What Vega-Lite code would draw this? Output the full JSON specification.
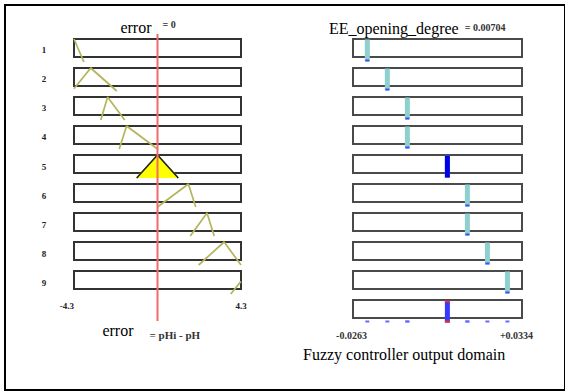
{
  "$schema": "https://vega.github.io/schema/vega-lite/v6.json",
  "width": 560,
  "height": 385,
  "autosize": {"type": "none"},
  "padding": {"left": 5, "top": 5, "right": 0, "bottom": 2},
  "background": "white",
  "config": {
    "view": {"stroke": "#000000", "strokeWidth": 2},
    "text": {"font": "Liberation Serif", "baseline": "alphabetic"}
  },
  "datasets": {
    "rulesIn": [{"rule": 1}, {"rule": 2}, {"rule": 3}, {"rule": 4}, {"rule": 5}, {"rule": 6}, {"rule": 7}, {"rule": 8}, {"rule": 9}],
    "rulesOut": [{"rule": 1}, {"rule": 2}, {"rule": 3}, {"rule": 4}, {"rule": 5}, {"rule": 6}, {"rule": 7}, {"rule": 8}, {"rule": 9}, {"rule": 10}],
    "mf": [
      {"rule": 1, "error": -4.3, "mu": 1}, {"rule": 1, "error": -3.79, "mu": 0},
      {"rule": 2, "error": -4.3, "mu": 0.1}, {"rule": 2, "error": -3.44, "mu": 1}, {"rule": 2, "error": -2.1, "mu": 0},
      {"rule": 3, "error": -2.92, "mu": 0}, {"rule": 3, "error": -2.57, "mu": 1}, {"rule": 3, "error": -1.69, "mu": 0},
      {"rule": 4, "error": -1.97, "mu": 0}, {"rule": 4, "error": -1.59, "mu": 1}, {"rule": 4, "error": 0, "mu": 0},
      {"rule": 5, "error": -1.07, "mu": 0}, {"rule": 5, "error": 0, "mu": 1}, {"rule": 5, "error": 1.07, "mu": 0},
      {"rule": 6, "error": 0, "mu": 0}, {"rule": 6, "error": 1.59, "mu": 1}, {"rule": 6, "error": 1.97, "mu": 0},
      {"rule": 7, "error": 1.69, "mu": 0}, {"rule": 7, "error": 2.55, "mu": 1}, {"rule": 7, "error": 2.92, "mu": 0},
      {"rule": 8, "error": 2.12, "mu": 0}, {"rule": 8, "error": 3.43, "mu": 1}, {"rule": 8, "error": 4.3, "mu": 0},
      {"rule": 9, "error": 3.77, "mu": 0}, {"rule": 9, "error": 4.3, "mu": 0.55}
    ],
    "out": [
      {"rule": 1, "out": -0.02124, "strength": 0},
      {"rule": 2, "out": -0.01417, "strength": 0},
      {"rule": 3, "out": -0.0071, "strength": 0},
      {"rule": 4, "out": -0.0071, "strength": 0},
      {"rule": 5, "out": 0.00704, "strength": 1},
      {"rule": 6, "out": 0.01411, "strength": 0},
      {"rule": 7, "out": 0.01411, "strength": 0},
      {"rule": 8, "out": 0.02118, "strength": 0},
      {"rule": 9, "out": 0.02825, "strength": 0}
    ],
    "final": [{"out": 0.00704}]
  },
  "resolve": {"scale": {"x": "independent"}},
  "layer": [
    {
      "layer": [
        {
          "data": {"name": "rulesIn"},
          "mark": {"type": "rect", "fill": "white", "stroke": "#333333", "strokeWidth": 2},
          "encoding": {
            "x": {"datum": -4.3, "type": "quantitative", "scale": {"domain": [-4.3, 4.3], "range": [69, 236], "nice": false, "zero": false}, "axis": null},
            "x2": {"datum": 4.3},
            "y": {"field": "rule", "type": "ordinal", "scale": {"domain": [1, 2, 3, 4, 5, 6, 7, 8, 9, 10], "range": [34, 318], "paddingInner": 0.2069, "paddingOuter": 0}, "axis": null}
          }
        },
        {
          "data": {"name": "mf"},
          "mark": {"type": "line", "strokeWidth": 1.7, "strokeJoin": "bevel"},
          "encoding": {
            "x": {"field": "error", "type": "quantitative", "axis": null},
            "y": {"field": "rule", "type": "ordinal", "axis": null},
            "yOffset": {"field": "mu", "type": "quantitative", "scale": {"domain": [0, 1], "range": [23, 0]}},
            "color": {"field": "rule", "type": "nominal", "scale": {"range": ["#b4b45c"]}, "legend": null},
            "order": {"field": "error", "type": "quantitative"}
          }
        },
        {
          "data": {"name": "mf"},
          "transform": [{"filter": "datum.rule == 5"}],
          "mark": {"type": "line", "fill": "#ffff00", "stroke": "#222222", "strokeWidth": 1.5, "strokeJoin": "bevel"},
          "encoding": {
            "x": {"field": "error", "type": "quantitative", "axis": null},
            "y": {"field": "rule", "type": "ordinal", "axis": null},
            "yOffset": {"field": "mu", "type": "quantitative", "scale": {"domain": [0, 1], "range": [23, 0]}},
            "order": {"field": "error", "type": "quantitative"}
          }
        },
        {
          "data": {"values": [{"input": 0}]},
          "mark": {"type": "rule", "stroke": "#f26b6b", "strokeWidth": 2, "yOffset": -16.5, "y2Offset": 38.5},
          "encoding": {
            "x": {"field": "input", "type": "quantitative", "axis": null},
            "y": {"datum": 1, "type": "ordinal", "axis": null},
            "y2": {"datum": 9}
          }
        },
        {
          "data": {"name": "rulesIn"},
          "mark": {"type": "text", "fontSize": 9, "fontWeight": "bold", "fill": "#222222", "align": "center", "dx": -30, "dy": 3},
          "encoding": {
            "x": {"datum": -4.3, "type": "quantitative", "axis": null},
            "y": {"field": "rule", "type": "ordinal", "axis": null},
            "text": {"field": "rule"}
          }
        },
        {
          "data": {"values": [{"label": "error", "v": 0}]},
          "mark": {"type": "text", "fontSize": 16, "fill": "#000000", "align": "right", "dx": -6, "dy": -17},
          "encoding": {
            "x": {"field": "v", "type": "quantitative", "axis": null},
            "y": {"datum": 1, "type": "ordinal", "axis": null},
            "text": {"field": "label"}
          }
        },
        {
          "data": {"values": [{"label": "= 0", "v": 0}]},
          "mark": {"type": "text", "fontSize": 10, "fontWeight": "bold", "fill": "#333333", "align": "left", "dx": 5, "dy": -22.5},
          "encoding": {
            "x": {"field": "v", "type": "quantitative", "axis": null},
            "y": {"datum": 1, "type": "ordinal", "axis": null},
            "text": {"field": "label"}
          }
        },
        {
          "data": {"values": [{"label": "-4.3", "v": -4.3}]},
          "mark": {"type": "text", "fontSize": 9, "fontWeight": "bold", "fill": "#222222", "align": "right", "dy": 26.5},
          "encoding": {
            "x": {"field": "v", "type": "quantitative", "axis": null},
            "y": {"datum": 9, "type": "ordinal", "axis": null},
            "text": {"field": "label"}
          }
        },
        {
          "data": {"values": [{"label": "4.3", "v": 4.3}]},
          "mark": {"type": "text", "fontSize": 9, "fontWeight": "bold", "fill": "#222222", "align": "center", "dy": 26.5},
          "encoding": {
            "x": {"field": "v", "type": "quantitative", "axis": null},
            "y": {"datum": 9, "type": "ordinal", "axis": null},
            "text": {"field": "label"}
          }
        },
        {
          "data": {"values": [{"label": "error", "v": 0}]},
          "mark": {"type": "text", "fontSize": 16, "fill": "#000000", "align": "right", "dx": -24, "dy": 53.5},
          "encoding": {
            "x": {"field": "v", "type": "quantitative", "axis": null},
            "y": {"datum": 9, "type": "ordinal", "axis": null},
            "text": {"field": "label"}
          }
        },
        {
          "data": {"values": [{"label": "= pHi - pH", "v": 0}]},
          "mark": {"type": "text", "fontSize": 11, "fontWeight": "bold", "fill": "#333333", "align": "left", "dx": -8, "dy": 56.5},
          "encoding": {
            "x": {"field": "v", "type": "quantitative", "axis": null},
            "y": {"datum": 9, "type": "ordinal", "axis": null},
            "text": {"field": "label"}
          }
        }
      ]
    },
    {
      "layer": [
        {
          "data": {"name": "rulesOut"},
          "mark": {"type": "rect", "fill": "white", "stroke": "#4a4a4a", "strokeWidth": 2},
          "encoding": {
            "x": {"datum": -0.0263, "type": "quantitative", "scale": {"domain": [-0.0263, 0.0334], "range": [348, 517], "nice": false, "zero": false}, "axis": null},
            "x2": {"datum": 0.0334},
            "y": {"field": "rule", "type": "ordinal", "axis": null}
          }
        },
        {
          "data": {"name": "out"},
          "mark": {"type": "tick", "color": "#8ecfcf", "thickness": 5, "size": 22, "opacity": 1},
          "encoding": {
            "x": {"field": "out", "type": "quantitative", "axis": null},
            "y": {"field": "rule", "type": "ordinal", "axis": null}
          }
        },
        {
          "data": {"name": "out"},
          "mark": {"type": "tick", "color": "#3c4cff", "thickness": 4, "size": 2, "yOffset": 10, "opacity": 1},
          "encoding": {
            "x": {"field": "out", "type": "quantitative", "axis": null},
            "y": {"field": "rule", "type": "ordinal", "axis": null}
          }
        },
        {
          "data": {"name": "out"},
          "transform": [{"filter": "datum.strength == 1"}],
          "mark": {"type": "tick", "color": "#0000e6", "thickness": 5, "size": 22, "opacity": 1},
          "encoding": {
            "x": {"field": "out", "type": "quantitative", "axis": null},
            "y": {"field": "rule", "type": "ordinal", "axis": null}
          }
        },
        {
          "data": {"name": "out"},
          "mark": {"type": "tick", "color": "#6a6aff", "thickness": 4, "size": 2, "yOffset": 10, "opacity": 1},
          "encoding": {
            "x": {"field": "out", "type": "quantitative", "axis": null},
            "y": {"datum": 10, "type": "ordinal", "axis": null}
          }
        },
        {
          "data": {"name": "final"},
          "mark": {"type": "tick", "color": "#3838ff", "thickness": 5, "size": 22, "opacity": 1},
          "encoding": {
            "x": {"field": "out", "type": "quantitative", "axis": null},
            "y": {"datum": 10, "type": "ordinal", "axis": null}
          }
        },
        {
          "data": {"name": "final"},
          "mark": {"type": "tick", "color": "#e83030", "thickness": 5, "size": 2, "yOffset": -10, "opacity": 1},
          "encoding": {
            "x": {"field": "out", "type": "quantitative", "axis": null},
            "y": {"datum": 10, "type": "ordinal", "axis": null}
          }
        },
        {
          "data": {"name": "final"},
          "mark": {"type": "tick", "color": "#e83030", "thickness": 5, "size": 2, "yOffset": 10, "opacity": 1},
          "encoding": {
            "x": {"field": "out", "type": "quantitative", "axis": null},
            "y": {"datum": 10, "type": "ordinal", "axis": null}
          }
        },
        {
          "data": {"values": [{"label": "EE_opening_degree", "v": 0.00704}]},
          "mark": {"type": "text", "fontSize": 16, "fill": "#000000", "align": "right", "dx": 11.3, "dy": -16},
          "encoding": {
            "x": {"field": "v", "type": "quantitative", "axis": null},
            "y": {"datum": 1, "type": "ordinal", "axis": null},
            "text": {"field": "label"}
          }
        },
        {
          "data": {"values": [{"label": "= 0.00704", "v": 0.00704}]},
          "mark": {"type": "text", "fontSize": 10, "fontWeight": "bold", "fill": "#333333", "align": "left", "dx": 17.3, "dy": -19.5},
          "encoding": {
            "x": {"field": "v", "type": "quantitative", "axis": null},
            "y": {"datum": 1, "type": "ordinal", "axis": null},
            "text": {"field": "label"}
          }
        },
        {
          "data": {"values": [{"label": "-0.0263", "v": -0.0263}]},
          "mark": {"type": "text", "fontSize": 10, "fontWeight": "bold", "fill": "#333333", "align": "center", "dx": -1.5, "dy": 27.5},
          "encoding": {
            "x": {"field": "v", "type": "quantitative", "axis": null},
            "y": {"datum": 10, "type": "ordinal", "axis": null},
            "text": {"field": "label"}
          }
        },
        {
          "data": {"values": [{"label": "+0.0334", "v": 0.0334}]},
          "mark": {"type": "text", "fontSize": 10, "fontWeight": "bold", "fill": "#333333", "align": "center", "dx": -5.5, "dy": 27.5},
          "encoding": {
            "x": {"field": "v", "type": "quantitative", "axis": null},
            "y": {"datum": 10, "type": "ordinal", "axis": null},
            "text": {"field": "label"}
          }
        },
        {
          "data": {"values": [{"label": "Fuzzy controller output domain", "v": -0.0263}]},
          "mark": {"type": "text", "fontSize": 16, "fill": "#000000", "align": "left", "dx": -50, "dy": 48.5},
          "encoding": {
            "x": {"field": "v", "type": "quantitative", "axis": null},
            "y": {"datum": 10, "type": "ordinal", "axis": null},
            "text": {"field": "label"}
          }
        }
      ]
    }
  ]
}
